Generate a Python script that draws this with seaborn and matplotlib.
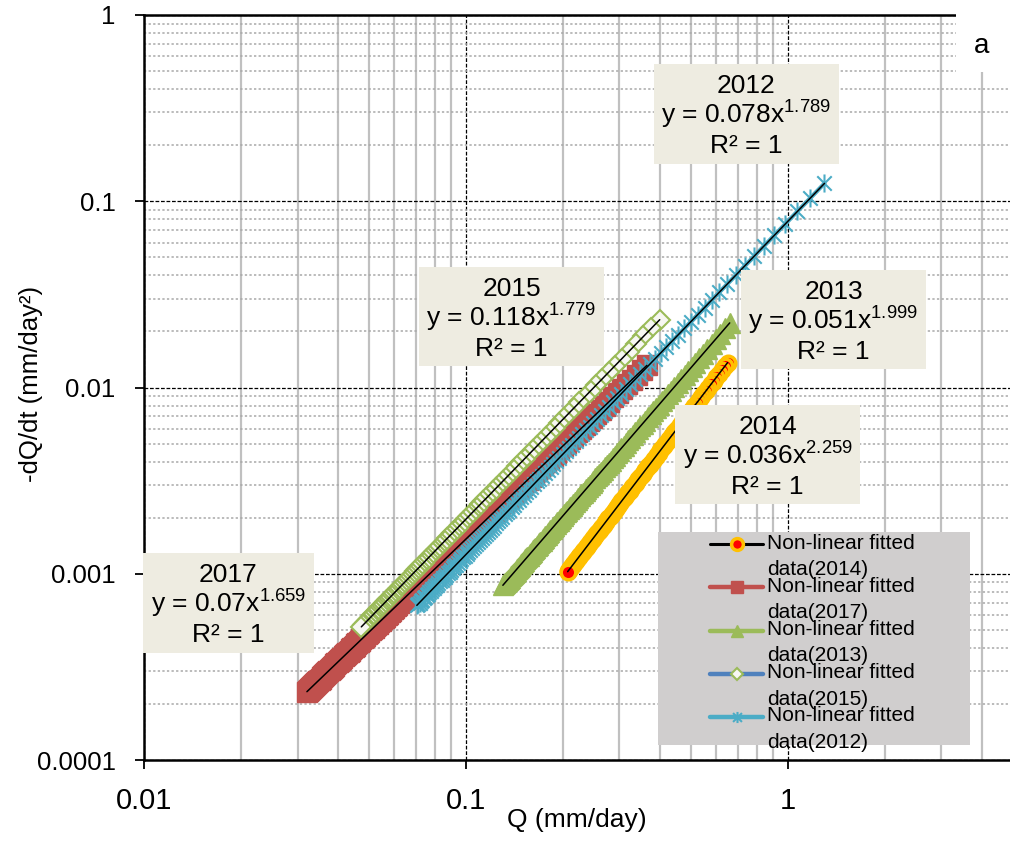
import numpy as np
import pandas as pd
import matplotlib
matplotlib.use("Agg")
import matplotlib.pyplot as plt
import seaborn as sns
from matplotlib.path import Path
from matplotlib.patches import Rectangle
from matplotlib.lines import Line2D
from matplotlib.legend_handler import HandlerLine2D
from matplotlib.ticker import LogLocator, NullFormatter

# ---- recession fits (coefficient a and exponent b of -dQ/dt = a Q^b) ----
years = ["2014", "2017", "2013", "2015", "2012"]
coef = [0.036, 0.07, 0.051, 0.118, 0.078]
expo = [2.259, 1.659, 1.999, 1.779, 1.789]
r_squared = [1, 1, 1, 1, 1]
# discharge at the start (peak) and at the end of each recession, mm/day
q_start = [0.65, 0.365, 0.66, 0.40, 1.30]
q_end = [0.206, 0.032, 0.13, 0.047, 0.07]

x_ticks = [0.01, 0.1, 1]
x_tick_labels = ["0.01", "0.1", "1"]
y_ticks = [0.0001, 0.001, 0.01, 0.1, 1]
y_tick_labels = ["0.0001", "0.001", "0.01", "0.1", "1"]


def recession_series(a, b, q0, q1):
    """Daily steps of the fitted recession law from q0 down to q1."""
    q = [q0]
    while True:
        nxt = q[-1] - a * q[-1] ** b
        if nxt < q1:
            break
        q.append(nxt)
    q = np.array(q)
    return pd.DataFrame({"Q": q, "dQdt": a * q ** b})


frames = {yr: recession_series(a, b, s, e)
          for yr, a, b, s, e in zip(years, coef, expo, q_start, q_end)}

# ---- styling ----
sns.set_theme(style="white")
plt.rcParams["font.family"] = ["Liberation Sans", "DejaVu Sans"]
plt.rcParams["mathtext.fontset"] = "custom"
plt.rcParams["mathtext.rm"] = "Liberation Sans"
for key in ["text.color", "axes.labelcolor", "xtick.color", "ytick.color"]:
    plt.rcParams[key] = "black"

star = Path([(-1, -1), (1, 1), (-1, 1), (1, -1), (0, -1.25), (0, 1.25)],
            [Path.MOVETO, Path.LINETO] * 3)

styles = {
    "2014": dict(color="black", linewidth=2.2, marker="o", markersize=10.5,
                 markerfacecolor="#FF0000", markeredgecolor="#FFC000", markeredgewidth=2.5),
    "2017": dict(color="#C0504D", linewidth=3.0, marker="s", markersize=14.5,
                 markerfacecolor="#C0504D", markeredgecolor="#C0504D", markeredgewidth=1.0),
    "2013": dict(color="#9BBB59", linewidth=3.0, marker="^", markersize=15,
                 markerfacecolor="#9BBB59", markeredgecolor="#9BBB59", markeredgewidth=1.0),
    "2015": dict(color="#4F81BD", linewidth=3.0, marker="D", markersize=10,
                 markerfacecolor="#F7F7F2", markeredgecolor="#9BBB59", markeredgewidth=1.5),
    "2012": dict(color="#4BACC6", linewidth=3.0, marker=star, markersize=13,
                 markerfacecolor="none", markeredgecolor="#4BACC6", markeredgewidth=1.5),
}
legend_marker_size = {"2014": 8.5, "2017": 8, "2013": 8.5, "2015": 6.5, "2012": 8}

W, H = 1010, 844
fig = plt.figure(figsize=(W / 100, H / 100), dpi=100)


def fx(px):
    return px / W


def fy(py):
    return 1 - py / H


ax = fig.add_axes([fx(144), fy(760), fx(1010) - fx(144), fy(15) - fy(760)])
ax.set_xscale("log")
ax.set_yscale("log")

# recession data with the fitted trendline drawn over each series
for i, yr in enumerate(years):
    sns.lineplot(data=frames[yr], x="Q", y="dQdt", ax=ax, estimator=None,
                 sort=False, legend=False, zorder=3 + i * 0.1, **styles[yr])
for yr in years:
    sns.lineplot(data=frames[yr], x="Q", y="dQdt", ax=ax, estimator=None,
                 sort=False, legend=False, color="black", linewidth=1.1, zorder=4)

ax.set_xlim(0.01, 4.9)
ax.set_ylim(0.0001, 1)

# grid
ax.xaxis.set_minor_locator(LogLocator(base=10, subs=np.arange(2, 10), numticks=30))
ax.yaxis.set_minor_locator(LogLocator(base=10, subs=np.arange(2, 10), numticks=30))
ax.xaxis.set_minor_formatter(NullFormatter())
ax.yaxis.set_minor_formatter(NullFormatter())
ax.set_axisbelow(True)
ax.grid(True, which="minor", axis="x", color="#C0C0C0", linestyle="-", linewidth=1.6)
ax.grid(True, which="minor", axis="y", color="#A8A8A8", linestyle=(0, (1.5, 1.5)), linewidth=1.1)
ax.grid(True, which="major", axis="both", color="black", linestyle=(0, (3, 1.4)), linewidth=0.9)

ax.set_xticks(x_ticks)
ax.set_xticklabels(x_tick_labels, fontsize=21)
ax.set_yticks(y_ticks)
ax.set_yticklabels(y_tick_labels, fontsize=18.5)
ax.tick_params(which="major", direction="out", length=6.5, width=1.3, color="black",
               bottom=True, left=True, top=False, right=False)
ax.tick_params(axis="x", which="major", pad=13)
ax.tick_params(axis="y", which="major", pad=14)
ax.tick_params(which="minor", length=0)

for side in ["left", "bottom", "top"]:
    ax.spines[side].set_visible(True)
    ax.spines[side].set_color("black")
    ax.spines[side].set_linewidth(1.8)
ax.spines["right"].set_visible(False)

ax.set_xlabel("Q (mm/day)", fontsize=19, va="top")
ax.xaxis.set_label_coords(0.5, -(808 - 760) / 745)
ax.set_ylabel("-dQ/dt (mm/day²)", fontsize=18.5)
ax.yaxis.set_label_coords((43 - 144) / 866, (760 - 384) / 745)

# equation boxes: left, top, width, height in pixels
box_layout = {
    "2012": (654, 64, 185, 100),
    "2015": (419, 267, 185, 99),
    "2013": (741, 270, 185, 99),
    "2014": (675, 405, 185, 99),
    "2017": (143, 553, 171, 100),
}
for yr, a, b, r2 in zip(years, coef, expo, r_squared):
    left, top, w, h = box_layout[yr]
    fig.add_artist(Rectangle((fx(left), fy(top + h)), w / W, h / H,
                             transform=fig.transFigure, facecolor="#EEECE1",
                             edgecolor="none", zorder=10))
    cx = fx(left + w / 2)
    lines = [yr, f"y = {a}x$^{{\\mathregular{{{b}}}}}$", f"R² = {r2}"]
    for k, txt in enumerate(lines):
        fig.text(cx, fy(top + 29 + 30 * k), txt, ha="center", va="baseline",
                 fontsize=19, color="black", zorder=11)

# panel tag in the upper right corner
fig.add_artist(Rectangle((fx(956), fy(72)), 54 / W, 72 / H, transform=fig.transFigure,
                         facecolor="white", edgecolor="none", zorder=10))
fig.text(fx(982), fy(53), "a", ha="center", va="baseline", fontsize=20, zorder=11)


# legend: marker sits on the first line of each two-line label
class FirstLineHandler(HandlerLine2D):
    def __init__(self, shift, **kw):
        super().__init__(**kw)
        self.shift = shift

    def create_artists(self, legend, orig_handle, xdescent, ydescent, width,
                       height, fontsize, trans):
        return super().create_artists(legend, orig_handle, xdescent,
                                      ydescent - 2 * self.shift, width, height,
                                      fontsize, trans)


fig.add_artist(Rectangle((fx(658), fy(745)), 312 / W, 213 / H, transform=fig.transFigure,
                         facecolor="#D0CECE", edgecolor="none", zorder=10))
handles = []
for yr in years:
    st = dict(styles[yr])
    st["markersize"] = legend_marker_size[yr]
    if yr != "2014":
        st["linewidth"] = 3.2
    handles.append(Line2D([], [], **st))
labels = [f"Non-linear fitted\ndata({yr})" for yr in years]
handler = FirstLineHandler(shift=9.0)
leg = fig.legend(handles, labels, loc="upper left",
                 bbox_to_anchor=(fx(710), fy(534)), bbox_transform=fig.transFigure,
                 frameon=False, fontsize=15, borderpad=0, borderaxespad=0,
                 handlelength=2.55, handletextpad=0.2, labelspacing=-0.1,
                 numpoints=1, handler_map={h: handler for h in handles})
for t in leg.get_texts():
    t.set_linespacing(1.48)
    t.set_color("black")
leg.set_zorder(12)

fig.savefig("out.png", dpi=100)
